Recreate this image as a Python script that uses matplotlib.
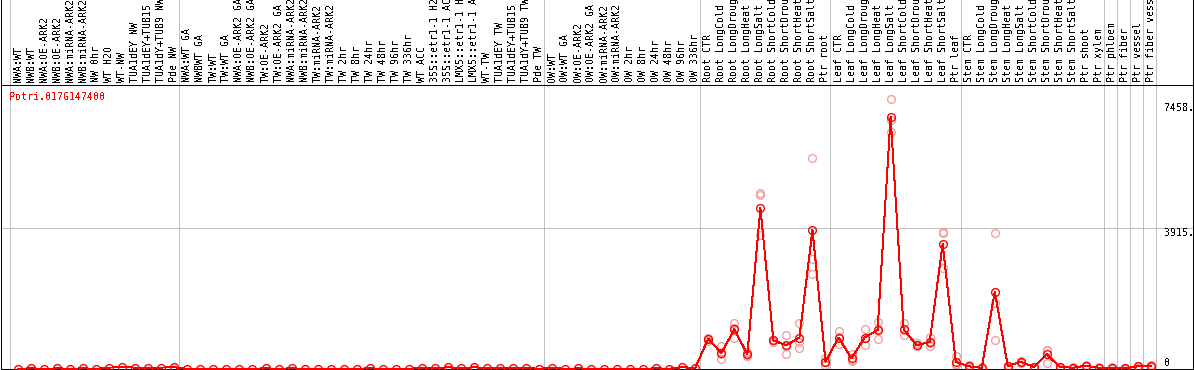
import numpy as np
import matplotlib
matplotlib.use("Agg")
import matplotlib.pyplot as plt
import matplotlib.transforms as mtransforms

plt.rcParams['font.family'] = ['DejaVu Sans Mono']
plt.rcParams['text.antialiased'] = False
plt.rcParams['lines.antialiased'] = False

gene = "Potri.017G147400"

# column labels, grouped as in the source chart
grp_nw = ["NWA:WT", "NWB:WT", "NWA:OE-ARK2", "NWB:OE-ARK2", "NWA:miRNA-ARK2",
          "NWB:miRNA-ARK2", "NW 0hr", "WT H2O", "WT-NW", "TUA1dEY NW",
          "TUA1dEY+TUB15 NW", "TUA1dY+TUB9 NW", "Pde NW"]
grp_tw = ["NWA:WT GA", "NWBWT GA", "TW:WT", "TW:WT GA", "NWA:OE-ARK2 GA",
          "NWB:OE-ARK2 GA", "TW:OE-ARK2", "TW:OE-ARK2 GA", "NWA:miRNA-ARK2 GA",
          "NWB:miRNA-ARK2 GA", "TW:miRNA-ARK2", "TW:miRNA-ARK2 GA", "TW 2hr",
          "TW 8hr", "TW 24hr", "TW 48hr", "TW 96hr", "TW 336hr", "WT ACC",
          "35S::etr1-1 H2O", "35S::etr1-1 ACC", "LMX5::etr1-1 H2O",
          "LMX5::etr1-1 ACC", "WT-TW", "TUA1dEY TW", "TUA1dEY+TUB15 TW",
          "TUA1dY+TUB9 TW", "Pde TW"]
grp_ow = ["OW:WT", "OW:WT GA", "OW:OE-ARK2", "OW:OE-ARK2 GA", "OW:miRNA-ARK2",
          "OW:miRNA-ARK2 GA", "OW 2hr", "OW 8hr", "OW 24hr", "OW 48hr",
          "OW 96hr", "OW 336hr"]
stress = ["CTR", "LongCold", "LongDrought", "LongHeat", "LongSalt",
          "ShortCold", "ShortDrought", "ShortHeat", "ShortSalt"]
grp_root = ["Root " + s for s in stress] + ["Ptr root"]
grp_leaf = ["Leaf " + s for s in stress] + ["Ptr leaf"]
grp_stem = ["Stem " + s for s in stress] + ["Ptr shoot", "Ptr xylem"]
grp_cell = ["Ptr phloem", "Ptr fiber", "Ptr vessel", "Ptr fiber vessel"]

# mean expression per column
mean_nw = [5, 20, 0, 20, 5, 20, 0, 40, 50, 40, 40, 40, 50]
mean_tw = [5, 5, 5, 0, 5, 5, 20, 5, 20, 5, 5, 5, 5, 5, 20, 5, 5,
           0, 40, 20, 50, 20, 50, 20, 20, 20, 40, 0]
mean_ow = [40, 0, 20, 5, 0, 0, 0, 5, 20, 5, 50, 30]
mean_root = [848, 442, 1105, 406, 4476, 793, 663, 876, 3868, 202]
mean_leaf = [876, 296, 876, 1086, 7018, 1105, 663, 754, 3481, 202]
mean_stem = [75, 36, 2155, 75, 202, 55, 406, 55, 36, 91, 36]
mean_cell = [36, 19, 75, 75]

# replicates (only visible for root / leaf / stem / cell columns)
rep1 = [790, 627, 1271, 478, 4899, 760, 939, 1271, 5877, 296,
        1050, 414, 1105, 1307, 7507, 1290, 718, 903, 3821, 351,
        100, 20, 3777, 40, 230, 40, 533, 40, 20, 80, 20,
        20, 10, 40, 100]
rep2 = [830, 276, 876, 351, 4844, 810, 406, 738, 3059, 110,
        691, 229, 671, 848, 6927, 939, 627, 644, 3793, 110,
        60, 40, 1843, 90, 180, 60, 166, 60, 40, 100, 40,
        40, 20, 90, 60]
rep3 = [870, 420, 1150, 390, 3730, 810, 645, 572, 2652, 200,
        887, 245, 852, 1103, 6584, 1086, 645, 715, 2810, 145,
        65, 50, 793, 95, 196, 65, 520, 65, 50, 93, 50,
        50, 27, 95, 65]

ytick_vals = [7458, 3915, 0]
ytick_text = ["7458.", "3915.", "0"]

groups = [grp_nw, grp_tw, grp_ow, grp_root, grp_leaf, grp_stem] + [[c] for c in grp_cell]
labels = sum(groups, [])
means = mean_nw + mean_tw + mean_ow + mean_root + mean_leaf + mean_stem + mean_cell
n = len(labels)
x = np.arange(n)
rep_start = n - len(rep1)

W, H = 1194, 370
fig = plt.figure(figsize=(W / 100, H / 100), dpi=100)
top_px = 85
ax = fig.add_axes([1 / W, 1 / H, 1192 / W, (H - 1 - top_px) / H])
colw = 1146 / n
ax.set_xlim(-0.5 - 9 / colw, -0.5 + 1183 / colw)
ax.set_ylim(0, 7900)
ax.set_xticks([])
ax.set_yticks([])
for s in ax.spines.values():
    s.set_color("black")
    s.set_linewidth(0.7)

over = 1 + top_px / (H - 1 - top_px)
# group separators
bounds = np.cumsum([0] + [len(g) for g in groups]) - 0.5
for b in bounds:
    ax.axvline(b, ymin=0, ymax=over, color="#c0c0c0", lw=0.6, clip_on=False, zorder=1)
for b in ax.get_xlim():
    ax.axvline(b, ymin=0, ymax=over, color="black", lw=0.7, clip_on=False, zorder=3)
ax.axhline(3915, color="#c0c0c0", lw=0.6, zorder=1)

dx = 0.12
xr = x[rep_start:] + dx
for r in (rep1, rep2, rep3):
    ax.plot(xr, r, ls="none", marker="o", ms=5.6, mfc="none", mec="#f09a9a",
            mew=0.9, clip_on=False, zorder=2)
ax.plot(x + dx, means, color="red", lw=0.7, marker="o", ms=5.6, mfc="none",
        mec="red", mew=1.0, clip_on=False, zorder=4)

# column labels above the plot
lab_tr = ax.get_xaxis_transform()
for i, lab in enumerate(labels):
    ax.text(i + dx, 1 + 3 / (H - 1 - top_px), lab, transform=lab_tr, rotation=90,
            ha="center", va="bottom", fontsize=7.2, clip_on=False)

# value labels on the right
ytr = mtransforms.blended_transform_factory(ax.transAxes, ax.transData)
for v, t in zip(ytick_vals, ytick_text):
    if v == 0:
        ax.text(1163 / 1192, 90, t, transform=ytr, ha="left", va="baseline", fontsize=7.2)
    else:
        ax.text(1163 / 1192, v - (60 if v > 5000 else 0), t, transform=ytr,
                ha="left", va="top", fontsize=7.2)

fig.text(9 / W, 1 - 92 / H, gene, color="red", ha="left", va="top", fontsize=7.2)

fig.savefig("out.png", dpi=100)
